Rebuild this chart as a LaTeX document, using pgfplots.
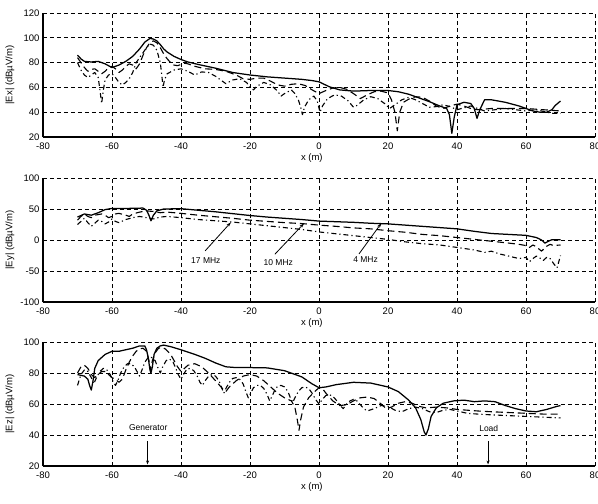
\documentclass[border=0pt]{standalone}
\usepackage{fontspec}
\setmainfont{Liberation Sans}
\usepackage{pgfplots}
\pgfplotsset{compat=1.18}
\usetikzlibrary{arrows.meta}

\tikzset{annot/.style={font=\fontsize{8.5}{10}\selectfont}}
\pgfplotsset{
  myax/.style={
    scale only axis, width=552pt, height=124pt,
    xmin=-80, xmax=80, xtick={-80,-60,...,80},
    axis x line*=bottom, axis y line*=left,
    axis line style={line width=1.1pt,-},
    grid=major,
    major grid style={black, line width=0.75pt, dash pattern=on 4pt off 3pt},
    tick align=inside, major tick length=4pt,
    tick style={black, line width=0.9pt},
    /pgf/number format/assume math mode=true,
    ticklabel style={font=\fontsize{9.5}{11}\selectfont},
    xticklabel style={yshift=-2pt},
    label style={font=\fontsize{9.5}{11}\selectfont},
    xlabel={x (m)},
    xlabel style={at={(axis description cs:0.487,-0.17)},anchor=center},
    ylabel style={at={(axis description cs:-0.06,0.5)},anchor=center},
    no marks,
    every axis plot/.append style={line join=round},
  },
  s4/.style={black, line width=1.25pt},
  s10/.style={black, line width=1.1pt, dash pattern=on 7pt off 4pt},
  s17/.style={black, line width=1.1pt, dash pattern=on 5pt off 3pt on 1.2pt off 3pt},
}

\begin{document}
\begin{tikzpicture}
% ---------------- Ex ----------------
\begin{axis}[myax, at={(0pt,0pt)}, anchor=south west,
  ymin=20, ymax=120, ytick={20,40,...,120},
  ylabel={|Ex| (dBµV/m)}]
\addplot[s4] coordinates {(-70,86) (-69,83) (-68,81) (-66,80.5) (-64,81) (-62,79) (-60,76) (-58,78) (-56,81) (-54,85) (-52,91) (-50.5,96.5) (-49,99.5) (-48,99) (-47,97.5) (-46,94.5) (-45,91) (-44,88.5) (-42,85) (-40,82.5) (-38,80.5) (-35,78.5) (-30,75.5) (-25,72) (-20,70) (-15,68.5) (-10,67.5) (-5,66.5) (-2,65.5) (0,64.5) (3,60.5) (6,58) (10,57) (15,57.5) (20,57.5) (23,56.5) (26,54.5) (29,51.5) (32,48.5) (35,45) (37,43) (37.8,38) (38.5,23) (39.2,36) (40,46) (42,48) (44,47) (45,43) (45.8,35) (46.6,42) (48,50) (50,50) (54,48) (58,45) (62,41) (64,40) (66,40) (67.5,42) (68.5,45.5) (70,49)};
\addplot[s10] coordinates {(-70,84) (-69,80) (-68,76) (-67,73) (-66,74.5) (-65,75) (-64,73) (-63,71) (-62,73) (-61,76) (-60,77) (-59,75) (-58,72) (-57,74) (-56,77) (-55,79) (-54,78) (-53,75) (-52,79) (-51,86) (-50,92) (-49,96) (-48,97.5) (-47,96) (-46,92) (-45,87) (-44,83) (-43,80) (-42,78) (-41,77.5) (-40,78.5) (-39,79.5) (-38,79) (-36,77) (-33,75) (-30,74.5) (-27,73) (-24,70) (-22,67) (-20,66.5) (-18,67.5) (-16,67.5) (-14,65) (-12,62) (-10,61) (-8,62.5) (-6,63) (-4,61.5) (-2,58) (0,55) (2,57.5) (4,59.5) (6,60) (8,58.5) (10,55) (12,51) (14,54) (16,56.5) (18,57) (20,55.5) (21,50) (22,40) (22.7,25) (23.4,40) (24.5,48) (26,50.5) (28,52.5) (30,52) (32,49) (34,45) (36,43) (38,45) (40,46.5) (42,45) (44,43) (46,42) (50,43) (55,43) (60,43) (65,42) (70,41)};
\addplot[s17] coordinates {(-70,80) (-69,74) (-68,70) (-67,68) (-66,70) (-65,72) (-64,68) (-63.5,58) (-63,47) (-62.5,58) (-62,66) (-61,70) (-60,71) (-59,68) (-58,64) (-57,62) (-56,64) (-55,67) (-54,72) (-53,80) (-52,84) (-51,88) (-50,92) (-49,95) (-48,94) (-47,90) (-46,80) (-45.5,68) (-45.2,60) (-44.8,66) (-44,71) (-42,74) (-40,75) (-38,73) (-36,70) (-34,72.5) (-32,72) (-30,69) (-28,65) (-27,63) (-25,66) (-23,67) (-21,64) (-20,60) (-19,58) (-18,61) (-16,64) (-14,62) (-12,57) (-11,53) (-10,55) (-8,58) (-7,55) (-6,50) (-5.3,44) (-4.8,38) (-4.2,44) (-3,50) (-1.5,53) (-0.5,49) (0.3,40) (1,45) (2.5,51) (4.5,54) (6.5,53) (8.5,49) (10,44) (11,45.5) (13,50) (15,52.5) (17,51) (19,47) (20.5,43) (22,46) (24,50) (26,52) (28,50) (30,47) (32,44) (34,44.5) (36,46) (38,44.5) (40,42) (42,43.5) (44,45) (46,43) (48,41) (51,42) (54,43) (57,42) (60,41) (63,42) (66,40) (68,39) (70,39)};
\end{axis}
% ---------------- Ey ----------------
\begin{axis}[myax, at={(0pt,-165pt)}, anchor=south west,
  ymin=-100, ymax=100, ytick={-100,-50,...,100},
  ylabel={|Ey| (dBµV/m)}]
\addplot[s4] coordinates {(-70,37) (-68,42) (-66,40) (-64,44) (-62,49) (-60,51) (-55,51) (-51,51.5) (-50,48) (-49.3,40) (-48.7,31) (-48,40) (-47,47) (-45,50) (-40,50.5) (-35,48) (-30,45.5) (-25,42.5) (-20,39.5) (-15,37) (-10,35) (-5,33) (0,30.5) (5,29.5) (10,28.5) (15,27) (20,26) (25,24) (30,22) (35,20) (40,18) (45,14) (50,10.5) (55,9) (60,7.5) (63,4) (64.5,0) (65.5,-5) (66.5,-2) (67.5,0.5) (70,0.5)};
\addplot[s10] coordinates {(-70,32) (-69,38) (-68,42) (-67,38) (-66,36) (-65,40) (-63,42) (-62,40) (-61,36) (-60,38) (-59,42) (-58,43) (-56,40) (-55,38) (-54,42) (-52,45) (-50,47) (-48,46) (-46,44) (-44,45) (-42,44) (-40,43) (-35,40) (-30,37.5) (-25,35) (-20,32) (-15,30) (-10,28) (-5,26.5) (0,24) (5,22) (10,19.5) (15,18) (20,15) (25,12.5) (30,9) (35,7) (40,4) (45,1) (50,-2) (55,-5) (58,-7) (60,-9) (61,-12) (62,-8) (63,-11) (64.5,-18) (66,-10) (67,-7) (68,-9) (70,-8)};
\addplot[s17] coordinates {(-70,25) (-69,30) (-68,35) (-67,28) (-66,22) (-65,27) (-64,32) (-63,30) (-62,26) (-61,29) (-60,34) (-59,30) (-58,28) (-56,33) (-54,36) (-52,38) (-50,36) (-48,34) (-46,37) (-44,38) (-42,37) (-40,36) (-35,33) (-30,31) (-25,29) (-20,26) (-15,23) (-10,20) (-5,17) (0,13) (5,10) (10,7) (15,4) (20,1) (25,-3) (30,-6) (35,-8) (40,-12) (45,-16) (48,-20) (50,-18) (52,-22) (55,-26) (58,-30) (60,-28) (61,-35) (62,-30) (63,-26) (64,-29) (65,-33) (66,-28) (67,-30) (68,-38) (69,-45) (69.5,-35) (70,-25)};
\draw[line width=0.8pt, -{Stealth[length=5pt,width=3pt]}] (axis cs:-33,-17.5) -- (axis cs:-25.5,28.7);
\draw[line width=0.8pt, -{Stealth[length=5pt,width=3pt]}] (axis cs:-12.8,-23) -- (axis cs:-4.3,27);
\draw[line width=0.8pt, -{Stealth[length=5pt,width=3pt]}] (axis cs:11.6,-22.4) -- (axis cs:18.1,27.3);
\node[annot] at (axis cs:-32.8,-32.5) {17 MHz};
\node[annot] at (axis cs:-11.8,-36) {10 MHz};
\node[annot] at (axis cs:13.5,-32) {4 MHz};
\end{axis}
% ---------------- Ez ----------------
\begin{axis}[myax, at={(0pt,-329pt)}, anchor=south west,
  ymin=20, ymax=100, ytick={20,40,...,100},
  ylabel={|Ez| (dBµV/m)}]
\addplot[s4] coordinates {(-70,79) (-68,78) (-67,76) (-66.5,72) (-66,69) (-65.5,75) (-65,83) (-64,88) (-62,92) (-60,94) (-58,94) (-56,95) (-54,96) (-52,97.5) (-50.5,97.5) (-50,95) (-49.5,90) (-49,82) (-48.7,80) (-48.3,84) (-47.8,92) (-47,96) (-46,97.5) (-45,98) (-43,97) (-40,95) (-36,92) (-33,89.5) (-30,86.5) (-27,84) (-24,83.5) (-20,83.5) (-15,83.3) (-10,81.5) (-5,77.5) (-2,73) (0,70.5) (2,71) (5,72.5) (10,74) (15,73.5) (20,71) (23,68) (26,62.5) (28,57.5) (29.5,50) (30.5,42) (31,40) (31.7,44) (32.5,52) (34,57.5) (36,60.5) (39,62) (42,62.5) (45,61.5) (48,62) (51,61.5) (54,59) (57,57) (60,55.5) (63,55) (66,56.5) (69,58.5) (70,59)};
\addplot[s10] coordinates {(-70,80) (-69,84) (-68,85) (-67,83) (-66,79) (-65,77) (-64,79) (-63,81) (-62,81) (-61,79) (-60,77) (-59,76) (-58,74) (-57,76) (-56,82) (-55,87) (-54,91) (-53,94) (-52,95.5) (-51,96) (-50,94) (-49.3,88) (-48.8,82) (-48.3,88) (-47.5,93) (-46.5,96) (-45.5,96.5) (-44.5,95.5) (-43,92) (-42,88) (-41,84) (-40,81) (-39,83) (-38,85) (-36,86) (-34,84) (-32,80) (-30,75) (-28,70) (-27,68) (-26,71) (-24,75) (-22,78) (-20,79) (-18,78) (-16,75) (-14,71) (-12,67) (-10,64) (-8,62) (-7,58) (-6.3,50) (-5.8,43) (-5.3,50) (-4.5,58) (-3,64) (-1,68.5) (0,70.5) (1,70) (2,67) (4,62) (6,59) (8,59.5) (10,62) (12,64) (14,64.5) (16,63.5) (18,60) (19.5,57) (21,58) (23,60.5) (25,61.5) (27,60.5) (29,58.5) (31,57.5) (34,58) (37,57.5) (40,56.5) (43,56) (46,55.5) (50,55) (55,54.5) (60,54) (65,53.5) (70,53.5)};
\addplot[s17] coordinates {(-70,72) (-69,79) (-68,82) (-67,81) (-66,77) (-65.3,73) (-64.5,77) (-63.5,81) (-62.5,83) (-61.5,82) (-60.5,79) (-59.8,75) (-59,72) (-58.3,75) (-57.5,80) (-56.5,84) (-55.5,86) (-54.5,86) (-53.5,84) (-52.5,80) (-52,78) (-51.3,82) (-50.5,87) (-49.5,90) (-48.5,90) (-47.5,88) (-46.8,84) (-46,80) (-45.3,84) (-44.3,88) (-43.3,89) (-42.3,87) (-41.5,83) (-40.8,79) (-40,76) (-39.3,79) (-38.3,82.5) (-37.3,83) (-36.3,81.5) (-35.3,78) (-34.5,74) (-33.8,72) (-33,75) (-32,78) (-31,79) (-30,78) (-29,75) (-28.3,71) (-27.6,67) (-27,70) (-26,74) (-25,76.5) (-24,77) (-23,76) (-22,73) (-21.2,68) (-20.5,64) (-19.8,67) (-19,70.5) (-18,72) (-17,72) (-16,70) (-15,66) (-14.3,62) (-13.6,65) (-12.8,69) (-12,71.5) (-11,72) (-10,71) (-9,68) (-8.3,64) (-7.6,61) (-7,64) (-6,68) (-5,70.5) (-4,71) (-3,70) (-2,67) (-1,63) (0,60) (1,63) (2,65.5) (3,66) (4,65) (5,62.5) (6,59.5) (7,57) (8,60) (9,62) (10,63) (11,62) (12,59.5) (13,57) (14,55.5) (16,57) (18,59) (20,58.5) (22,56) (24,55) (26,57) (28,58) (30,57) (32,55) (34,54.5) (36,56) (38,56.5) (40,55.5) (43,54) (46,53.5) (50,53) (55,52.5) (60,52) (65,51.5) (70,51)};
\node[annot] at (axis cs:-49.5,44.6) {Generator};
\draw[line width=0.8pt, -{Stealth[length=4pt,width=3pt]}] (axis cs:-49.7,36) -- (axis cs:-49.7,21);
\node[annot] at (axis cs:49.2,44) {Load};
\draw[line width=0.8pt, -{Stealth[length=4pt,width=3pt]}] (axis cs:49,36) -- (axis cs:49,21);
\end{axis}
\pgfresetboundingbox
\useasboundingbox (-43pt,-367pt) rectangle (555pt,137pt);
\end{tikzpicture}
\end{document}
